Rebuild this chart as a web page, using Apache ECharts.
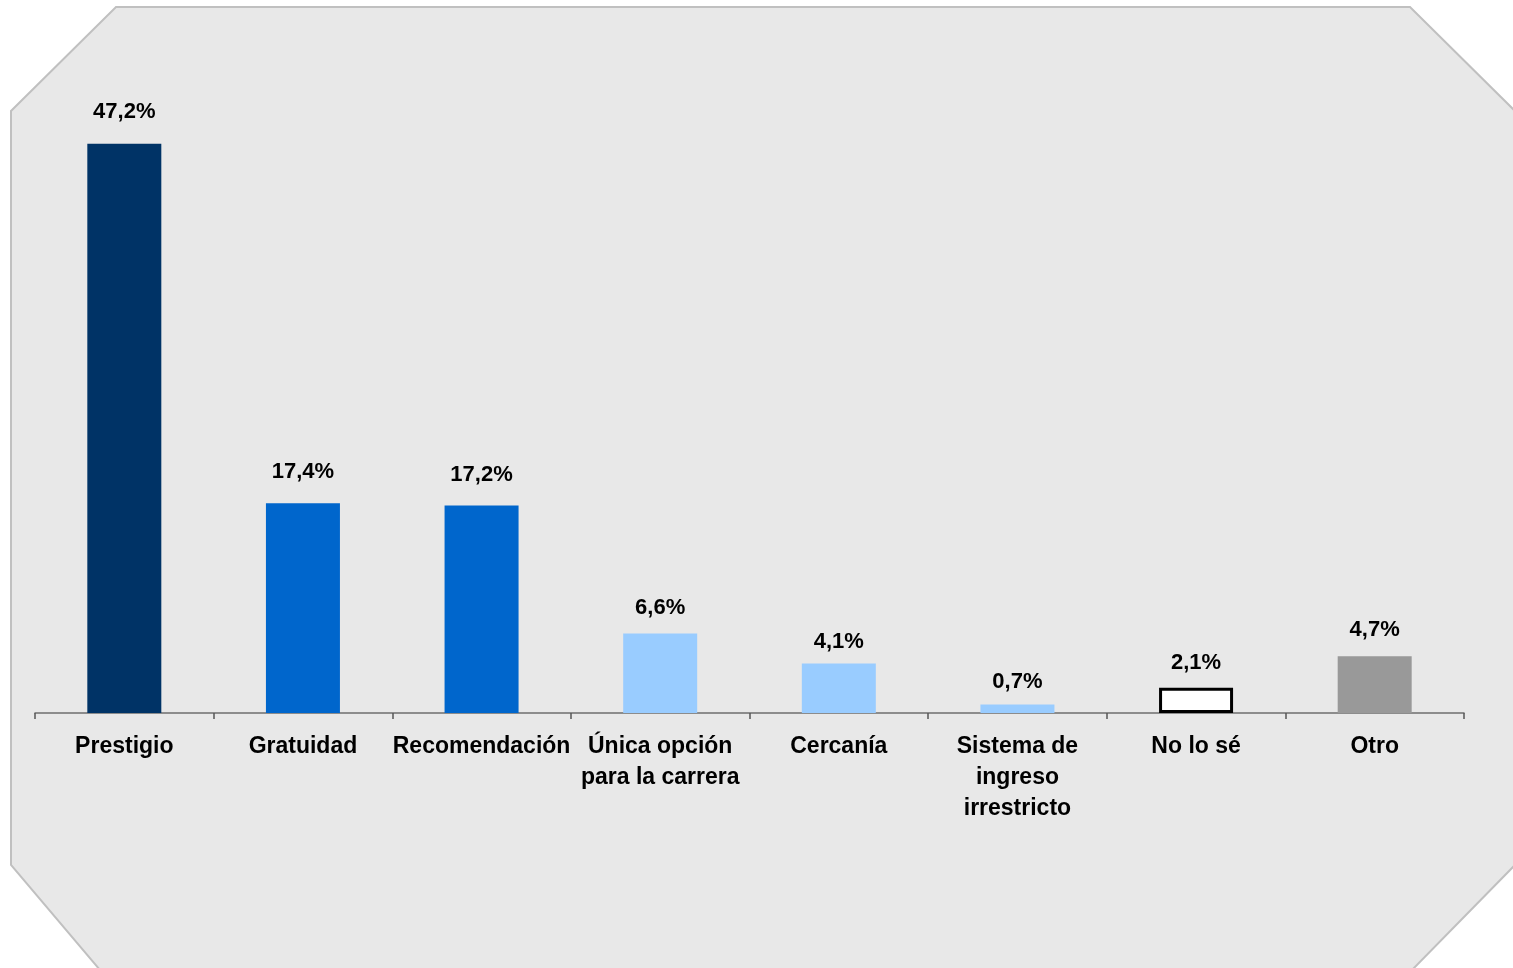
<!DOCTYPE html>
<html>
<head>
<meta charset="utf-8">
<script src="https://cdn.jsdelivr.net/npm/echarts@6/dist/echarts.min.js"></script>
<style>
html,body{margin:0;padding:0;background:#fff;}
#chart{width:1513px;height:968px;}
</style>
</head>
<body>
<div id="chart"></div>
<script>
const categories = ['Prestigio', 'Gratuidad', 'Recomendación', 'Única opción\npara la carrera', 'Cercanía', 'Sistema de\ningreso\nirrestricto', 'No lo sé', 'Otro'];
const values = [47.2, 17.4, 17.2, 6.6, 4.1, 0.7, 2.1, 4.7];
const barColors = ['#003366', '#0066CC', '#0066CC', '#99CCFF', '#99CCFF', '#99CCFF', '#FFFFFF', '#999999'];
const barBorders = [null, null, null, null, null, null, '#000000', null];
const labelGaps = [21, 20, 20, 14, 11, 12, 14, 15];

const chart = echarts.init(document.getElementById('chart'), null, {renderer: 'canvas'});
const font = '"Liberation Sans", Arial, sans-serif';

const option = {
  animation: false,
  backgroundColor: '#ffffff',
  graphic: [{
    type: 'polygon',
    silent: true,
    z: -10,
    shape: {
      points: [[116, 7], [1410, 7], [1514, 110], [1514, 866], [1412, 970], [100, 970], [11, 865], [11, 111]]
    },
    style: { fill: '#E8E8E8', stroke: '#C0C0C0', lineWidth: 2 }
  }],
  grid: { left: 35, right: 49, top: 110, bottom: 255, containLabel: false },
  xAxis: {
    type: 'category',
    data: categories,
    boundaryGap: true,
    axisLine: { show: true, lineStyle: { color: '#6E6E6E', width: 1.5 } },
    axisTick: { show: true, length: 6, lineStyle: { color: '#555555', width: 1.5 } },
    axisLabel: {
      interval: 0,
      margin: 18,
      color: '#000000',
      fontFamily: font,
      fontWeight: 'bold',
      fontSize: 23,
      lineHeight: 31
    },
    splitLine: { show: false }
  },
  yAxis: {
    type: 'value',
    min: 0,
    max: 50,
    show: false,
    splitLine: { show: false }
  },
  series: [{
    type: 'bar',
    barWidth: 74,
    data: values.map((v, i) => ({
      value: v,
      itemStyle: barBorders[i]
        ? { color: barColors[i], borderColor: barBorders[i], borderWidth: 3 }
        : { color: barColors[i] },
      label: { distance: labelGaps[i] }
    })),
    label: {
      show: true,
      position: 'top',
      color: '#000000',
      fontFamily: font,
      fontWeight: 'bold',
      fontSize: 22,
      formatter: p => p.value.toFixed(1).replace('.', ',') + '%'
    }
  }]
};
chart.setOption(option);
</script>
</body>
</html>
